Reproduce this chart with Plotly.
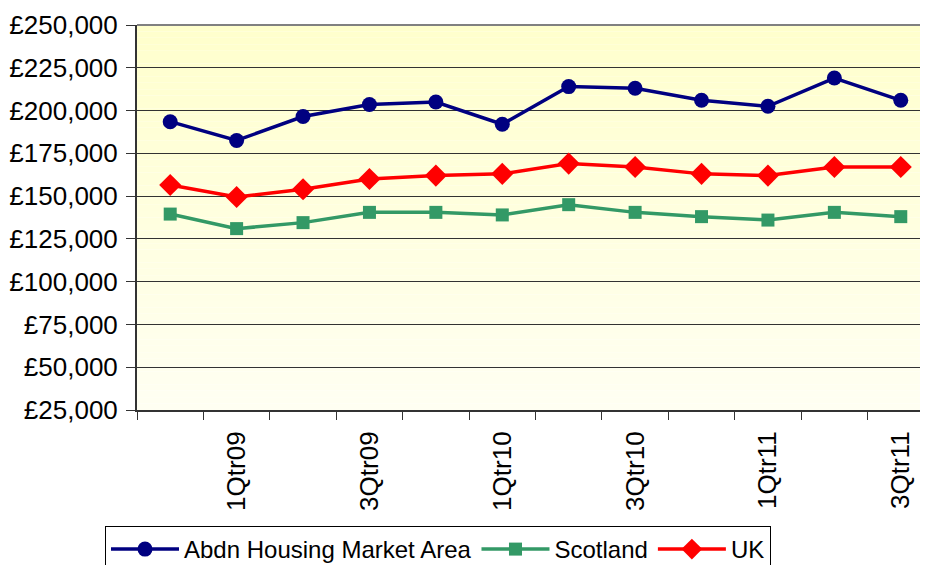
import plotly.graph_objects as go

quarters = ["4Qtr08", "1Qtr09", "2Qtr09", "3Qtr09", "4Qtr09", "1Qtr10",
            "2Qtr10", "3Qtr10", "4Qtr10", "1Qtr11", "2Qtr11", "3Qtr11"]
tick_labels = ["", "1Qtr09", "", "3Qtr09", "", "1Qtr10",
               "", "3Qtr10", "", "1Qtr11", "", "3Qtr11"]
abdn = [193500, 182500, 196500, 203500, 205000, 192000,
        214000, 213000, 206000, 202500, 219000, 206000]
scotland = [139500, 131000, 134500, 140500, 140500, 139000,
            145000, 140500, 138000, 136000, 140500, 138000]
uk = [156500, 149500, 154000, 160000, 162000, 163000,
      169000, 167000, 163000, 162000, 167000, 167000]
y_ticks = [25000, 50000, 75000, 100000, 125000, 150000, 175000, 200000, 225000, 250000]
y_tick_labels = ["£25,000", "£50,000", "£75,000", "£100,000", "£125,000",
                 "£150,000", "£175,000", "£200,000", "£225,000", "£250,000"]

fig = go.Figure()
fig.add_trace(go.Scatter(x=quarters, y=abdn, name="Abdn Housing Market Area",
                         mode="lines+markers", line=dict(color="#000080", width=3.5),
                         marker=dict(symbol="circle", size=15, color="#000080")))
fig.add_trace(go.Scatter(x=quarters, y=scotland, name="Scotland",
                         mode="lines+markers", line=dict(color="#339966", width=3.5),
                         marker=dict(symbol="square", size=13, color="#339966")))
fig.add_trace(go.Scatter(x=quarters, y=uk, name="UK",
                         mode="lines+markers", line=dict(color="#FF0000", width=3.5),
                         marker=dict(symbol="diamond", size=17, color="#FF0000")))

# vertical gradient background for plot area
n = 60
top = (255, 255, 204)
bot = (255, 255, 242)
shapes = []
for i in range(n):
    f = i / (n - 1)
    c = tuple(round(top[k] + (bot[k] - top[k]) * f) for k in range(3))
    shapes.append(dict(type="rect", xref="x domain", yref="y domain",
                       x0=0, x1=1, y0=1 - (i + 1) / n, y1=1 - i / n,
                       fillcolor="rgb(%d,%d,%d)" % c, line=dict(width=0), layer="below"))
shapes.append(dict(type="line", xref="x domain", yref="y domain", x0=0, x1=1, y0=1, y1=1,
                   line=dict(color="#808080", width=2)))

# page body has an 8px margin; figure coordinates are compensated for it
fig.update_layout(
    width=928, height=565,
    margin=dict(l=129, r=8, t=17, b=163, autoexpand=False),
    paper_bgcolor="white", plot_bgcolor="rgba(0,0,0,0)",
    font=dict(family="Liberation Sans, Arial", size=24, color="black"),
    shapes=shapes,
    showlegend=True,
    legend=dict(orientation="h", xref="container", yref="container",
                x=97 / 928, y=1 - 518 / 565,
                xanchor="left", yanchor="top", bordercolor="black", borderwidth=1,
                bgcolor="white",
                font=dict(family="Liberation Sans Narrow, Arial Narrow, Liberation Sans", size=24),
                itemwidth=68, tracegroupgap=0),
    xaxis=dict(type="category", range=[-0.5, 11.41], tickmode="array",
               tickvals=quarters, ticktext=tick_labels, tickangle=-90,
               tickson="boundaries", ticks="outside", ticklen=8, tickcolor="#333",
               showline=True, linecolor="#333", linewidth=2, showgrid=False,
               tickfont=dict(size=26), ticklabelstandoff=9),
    yaxis=dict(range=[25000, 250000], tickmode="array", tickvals=y_ticks,
               ticktext=y_tick_labels, ticks="outside", ticklen=9,
               tickcolor="#333", showline=True, linecolor="#333", linewidth=2,
               showgrid=True, gridcolor="#333", gridwidth=1, zeroline=False,
               tickfont=dict(size=26), ticklabelstandoff=3),
)
fig.write_html("out.html")
